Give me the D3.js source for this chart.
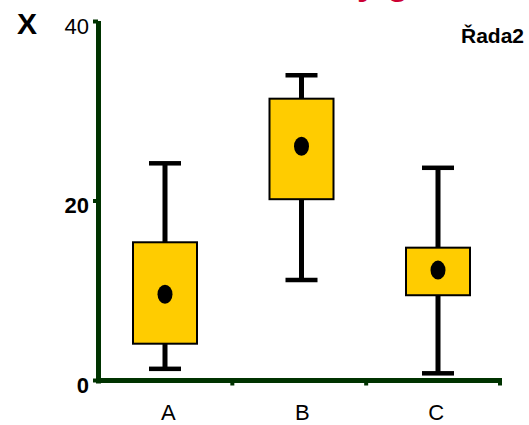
<!DOCTYPE html>
<html>
<head>
<meta charset="utf-8">
<script src="https://cdn.jsdelivr.net/npm/d3@7"></script>
<style>
    body { margin: 0; background: #fff; overflow: hidden; }
    svg { display: block; font-family: "Liberation Sans", Arial, sans-serif; }
</style>
</head>
<body>
<div class="BoxChart"></div>
<script>
// values
const categories = ["A", "B", "C"];
const whiskerLow = [1.3, 11.2, 0.8];
const boxLow = [4.1, 20.2, 9.5];
const medians = [9.6, 26.1, 12.3];
const boxHigh = [15.4, 31.4, 14.8];
const whiskerHigh = [24.2, 34.0, 23.7];
const yTicks = [0, 20, 40];
const yTickBold = [true, true, false];

const AXIS_COLOR = "#003300";
const BOX_COLOR = "#FFCC00";

let svg = d3.select(".BoxChart").append("svg")
    .attr("width", 529).attr("height", 425);

let y = d3.scaleLinear().domain([0, 40]).range([380.5, 21.5]);
let xBand = d3.scaleBand().domain(categories).range([98.5, 500]);
let xBox = d3.scalePoint().domain(categories).range([165, 438]);

let rows = categories.map((c, i) => ({
    cat: c, lo: whiskerLow[i], q1: boxLow[i], med: medians[i], q3: boxHigh[i], hi: whiskerHigh[i]
}));

// title, mostly cut off above the top edge
svg.append("text")
    .attr("x", 203).attr("y", -6.5)
    .attr("font-size", 36).attr("font-weight", "bold")
    .attr("fill", "#CC0033")
    .text("Krabicový graf");

// axes
svg.append("line")
    .attr("x1", 98.5).attr("x2", 98.5)
    .attr("y1", y(40) - 0.5).attr("y2", y(0) + 3)
    .attr("stroke", AXIS_COLOR).attr("stroke-width", 5);
svg.append("line")
    .attr("x1", 96).attr("x2", 502)
    .attr("y1", y(0)).attr("y2", y(0))
    .attr("stroke", AXIS_COLOR).attr("stroke-width", 5);

// y ticks (little nubs to the left)
svg.selectAll(".ytick").data(yTicks).enter().append("line")
    .attr("class", "ytick")
    .attr("x1", 93).attr("x2", 98)
    .attr("y1", d => y(d)).attr("y2", d => y(d))
    .attr("stroke", AXIS_COLOR).attr("stroke-width", 4);

svg.selectAll(".ylabel").data(yTicks).enter().append("text")
    .attr("class", "ylabel")
    .attr("x", 89).attr("y", d => y(d) + 12)
    .attr("text-anchor", "end")
    .attr("font-size", 22)
    .attr("font-weight", (d, i) => yTickBold[i] ? "bold" : "normal")
    .text(d => d);

// x ticks at band edges
let xEdges = categories.map(c => xBand(c) + xBand.bandwidth());
svg.selectAll(".xtick").data(xEdges).enter().append("line")
    .attr("class", "xtick")
    .attr("x1", d => d).attr("x2", d => d)
    .attr("y1", y(0)).attr("y2", y(0) + 5)
    .attr("stroke", AXIS_COLOR).attr("stroke-width", 4);

svg.selectAll(".xlabel").data(categories).enter().append("text")
    .attr("class", "xlabel")
    .attr("x", d => xBand(d) + xBand.bandwidth() / 2 + 3)
    .attr("y", 420)
    .attr("text-anchor", "middle")
    .attr("font-size", 22)
    .text(d => d);

// axis title and series name
svg.append("text")
    .attr("x", 17).attr("y", 34)
    .attr("font-size", 30).attr("font-weight", "bold")
    .text("X");
svg.append("text")
    .attr("x", 524).attr("y", 43)
    .attr("text-anchor", "end")
    .attr("font-size", 21).attr("font-weight", "bold")
    .text("Řada2");

// boxes
let g = svg.selectAll(".box").data(rows).enter().append("g").attr("class", "box");

g.append("line")
    .attr("x1", d => xBox(d.cat)).attr("x2", d => xBox(d.cat))
    .attr("y1", d => y(d.hi)).attr("y2", d => y(d.lo))
    .attr("stroke", "#000").attr("stroke-width", 5);
g.append("line")
    .attr("x1", d => xBox(d.cat) - 16).attr("x2", d => xBox(d.cat) + 16)
    .attr("y1", d => y(d.hi)).attr("y2", d => y(d.hi))
    .attr("stroke", "#000").attr("stroke-width", 4.5);
g.append("line")
    .attr("x1", d => xBox(d.cat) - 16).attr("x2", d => xBox(d.cat) + 16)
    .attr("y1", d => y(d.lo)).attr("y2", d => y(d.lo))
    .attr("stroke", "#000").attr("stroke-width", 4.5);
g.append("rect")
    .attr("x", d => xBox(d.cat) - 32).attr("width", 64)
    .attr("y", d => y(d.q3)).attr("height", d => y(d.q1) - y(d.q3))
    .attr("fill", BOX_COLOR).attr("stroke", "#000").attr("stroke-width", 2);
g.append("ellipse")
    .attr("cx", d => xBox(d.cat)).attr("cy", d => y(d.med))
    .attr("rx", 7.5).attr("ry", 9.5)
    .attr("fill", "#000");
</script>
</body>
</html>
